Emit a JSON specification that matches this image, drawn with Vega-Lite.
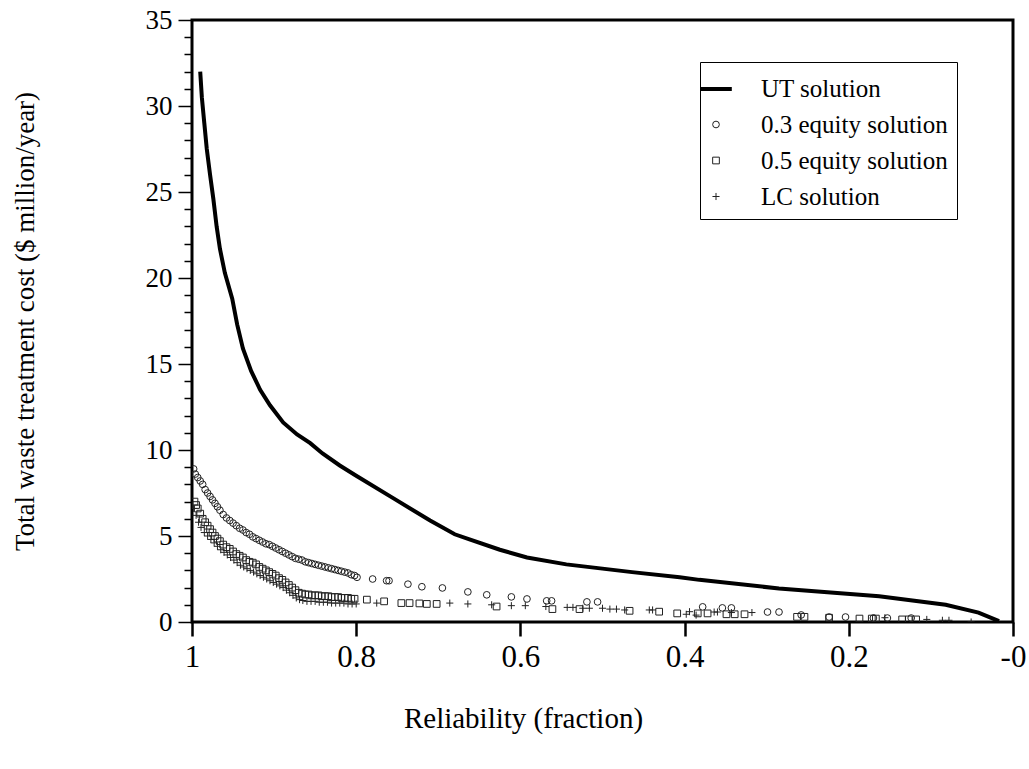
{
  "$schema": "https://vega.github.io/schema/vega-lite/v6.json",
  "autosize": "none",
  "width": 821,
  "height": 602,
  "padding": {"left": 192, "top": 20, "right": 16, "bottom": 147},
  "background": "white",
  "config": {
    "view": {"stroke": "black", "strokeWidth": 3},
    "font": "Liberation Serif",
    "axis": {"labelFont": "Liberation Serif", "titleFont": "Liberation Serif"},
    "legend": {"labelFont": "Liberation Serif", "titleFont": "Liberation Serif"},
    "style": {
      "guide-label": {"font": "Liberation Serif"},
      "guide-title": {"font": "Liberation Serif"}
    }
  },
  "datasets": {
    "ut": [
      {"r": 0.99, "c": 32.0}, {"r": 0.988, "c": 30.5}, {"r": 0.985, "c": 29.0}, {"r": 0.982, "c": 27.5},
      {"r": 0.978, "c": 26.0}, {"r": 0.974, "c": 24.6}, {"r": 0.970, "c": 23.0}, {"r": 0.966, "c": 21.7},
      {"r": 0.960, "c": 20.3}, {"r": 0.951, "c": 18.8}, {"r": 0.945, "c": 17.3}, {"r": 0.938, "c": 15.9},
      {"r": 0.928, "c": 14.6}, {"r": 0.917, "c": 13.5}, {"r": 0.905, "c": 12.6}, {"r": 0.889, "c": 11.6},
      {"r": 0.872, "c": 10.9}, {"r": 0.856, "c": 10.4}, {"r": 0.841, "c": 9.8}, {"r": 0.82, "c": 9.1},
      {"r": 0.8, "c": 8.5}, {"r": 0.755, "c": 7.2}, {"r": 0.71, "c": 5.9}, {"r": 0.68, "c": 5.1},
      {"r": 0.662, "c": 4.8}, {"r": 0.625, "c": 4.2}, {"r": 0.592, "c": 3.75}, {"r": 0.544, "c": 3.35},
      {"r": 0.464, "c": 2.9}, {"r": 0.406, "c": 2.6}, {"r": 0.382, "c": 2.45}, {"r": 0.285, "c": 1.95},
      {"r": 0.163, "c": 1.5}, {"r": 0.082, "c": 1.0}, {"r": 0.042, "c": 0.55}, {"r": 0.017, "c": 0.05}
    ],
    "pts": [
      {"s": "0.3 equity solution", "r": 0.998, "c": 8.9}, {"s": "0.3 equity solution", "r": 0.996, "c": 8.6},
      {"s": "0.3 equity solution", "r": 0.993, "c": 8.4}, {"s": "0.3 equity solution", "r": 0.990, "c": 8.2},
      {"s": "0.3 equity solution", "r": 0.987, "c": 8.0}, {"s": "0.3 equity solution", "r": 0.984, "c": 7.7},
      {"s": "0.3 equity solution", "r": 0.981, "c": 7.5}, {"s": "0.3 equity solution", "r": 0.978, "c": 7.3},
      {"s": "0.3 equity solution", "r": 0.975, "c": 7.1}, {"s": "0.3 equity solution", "r": 0.972, "c": 6.9},
      {"s": "0.3 equity solution", "r": 0.969, "c": 6.7}, {"s": "0.3 equity solution", "r": 0.966, "c": 6.5},
      {"s": "0.3 equity solution", "r": 0.962, "c": 6.25}, {"s": "0.3 equity solution", "r": 0.958, "c": 6.05},
      {"s": "0.3 equity solution", "r": 0.954, "c": 5.9}, {"s": "0.3 equity solution", "r": 0.950, "c": 5.75},
      {"s": "0.3 equity solution", "r": 0.946, "c": 5.6}, {"s": "0.3 equity solution", "r": 0.942, "c": 5.45},
      {"s": "0.3 equity solution", "r": 0.938, "c": 5.35}, {"s": "0.3 equity solution", "r": 0.934, "c": 5.2},
      {"s": "0.3 equity solution", "r": 0.930, "c": 5.1}, {"s": "0.3 equity solution", "r": 0.926, "c": 4.95},
      {"s": "0.3 equity solution", "r": 0.922, "c": 4.85}, {"s": "0.3 equity solution", "r": 0.918, "c": 4.75},
      {"s": "0.3 equity solution", "r": 0.914, "c": 4.65}, {"s": "0.3 equity solution", "r": 0.910, "c": 4.55},
      {"s": "0.3 equity solution", "r": 0.906, "c": 4.5}, {"s": "0.3 equity solution", "r": 0.902, "c": 4.4},
      {"s": "0.3 equity solution", "r": 0.898, "c": 4.3}, {"s": "0.3 equity solution", "r": 0.894, "c": 4.2},
      {"s": "0.3 equity solution", "r": 0.890, "c": 4.1}, {"s": "0.3 equity solution", "r": 0.886, "c": 4.0},
      {"s": "0.3 equity solution", "r": 0.882, "c": 3.9}, {"s": "0.3 equity solution", "r": 0.878, "c": 3.8},
      {"s": "0.3 equity solution", "r": 0.874, "c": 3.7}, {"s": "0.3 equity solution", "r": 0.870, "c": 3.65},
      {"s": "0.3 equity solution", "r": 0.866, "c": 3.6}, {"s": "0.3 equity solution", "r": 0.862, "c": 3.5},
      {"s": "0.3 equity solution", "r": 0.858, "c": 3.45}, {"s": "0.3 equity solution", "r": 0.854, "c": 3.4},
      {"s": "0.3 equity solution", "r": 0.850, "c": 3.35}, {"s": "0.3 equity solution", "r": 0.846, "c": 3.3},
      {"s": "0.3 equity solution", "r": 0.842, "c": 3.25}, {"s": "0.3 equity solution", "r": 0.838, "c": 3.2},
      {"s": "0.3 equity solution", "r": 0.834, "c": 3.15}, {"s": "0.3 equity solution", "r": 0.830, "c": 3.1},
      {"s": "0.3 equity solution", "r": 0.826, "c": 3.05}, {"s": "0.3 equity solution", "r": 0.822, "c": 3.0},
      {"s": "0.3 equity solution", "r": 0.818, "c": 2.95}, {"s": "0.3 equity solution", "r": 0.814, "c": 2.9},
      {"s": "0.3 equity solution", "r": 0.810, "c": 2.85}, {"s": "0.3 equity solution", "r": 0.806, "c": 2.75},
      {"s": "0.3 equity solution", "r": 0.802, "c": 2.7}, {"s": "0.3 equity solution", "r": 0.799, "c": 2.6},
      {"s": "0.3 equity solution", "r": 0.780, "c": 2.5}, {"s": "0.3 equity solution", "r": 0.763, "c": 2.4},
      {"s": "0.3 equity solution", "r": 0.760, "c": 2.4}, {"s": "0.3 equity solution", "r": 0.737, "c": 2.2},
      {"s": "0.3 equity solution", "r": 0.720, "c": 2.05}, {"s": "0.3 equity solution", "r": 0.695, "c": 1.98},
      {"s": "0.3 equity solution", "r": 0.664, "c": 1.75}, {"s": "0.3 equity solution", "r": 0.641, "c": 1.58},
      {"s": "0.3 equity solution", "r": 0.611, "c": 1.46}, {"s": "0.3 equity solution", "r": 0.592, "c": 1.34},
      {"s": "0.3 equity solution", "r": 0.568, "c": 1.23}, {"s": "0.3 equity solution", "r": 0.562, "c": 1.23},
      {"s": "0.3 equity solution", "r": 0.519, "c": 1.17}, {"s": "0.3 equity solution", "r": 0.506, "c": 1.17},
      {"s": "0.3 equity solution", "r": 0.378, "c": 0.88}, {"s": "0.3 equity solution", "r": 0.354, "c": 0.82},
      {"s": "0.3 equity solution", "r": 0.343, "c": 0.82}, {"s": "0.3 equity solution", "r": 0.299, "c": 0.58},
      {"s": "0.3 equity solution", "r": 0.285, "c": 0.58}, {"s": "0.3 equity solution", "r": 0.258, "c": 0.41},
      {"s": "0.3 equity solution", "r": 0.224, "c": 0.29}, {"s": "0.3 equity solution", "r": 0.204, "c": 0.29},
      {"s": "0.3 equity solution", "r": 0.170, "c": 0.23}, {"s": "0.3 equity solution", "r": 0.153, "c": 0.23},
      {"s": "0.3 equity solution", "r": 0.124, "c": 0.23},

      {"s": "0.5 equity solution", "r": 0.997, "c": 7.0}, {"s": "0.5 equity solution", "r": 0.995, "c": 6.8},
      {"s": "0.5 equity solution", "r": 0.993, "c": 6.6}, {"s": "0.5 equity solution", "r": 0.990, "c": 6.3},
      {"s": "0.5 equity solution", "r": 0.987, "c": 6.0}, {"s": "0.5 equity solution", "r": 0.984, "c": 5.8},
      {"s": "0.5 equity solution", "r": 0.981, "c": 5.6}, {"s": "0.5 equity solution", "r": 0.978, "c": 5.4},
      {"s": "0.5 equity solution", "r": 0.975, "c": 5.2}, {"s": "0.5 equity solution", "r": 0.972, "c": 5.0},
      {"s": "0.5 equity solution", "r": 0.969, "c": 4.85}, {"s": "0.5 equity solution", "r": 0.966, "c": 4.7},
      {"s": "0.5 equity solution", "r": 0.962, "c": 4.5}, {"s": "0.5 equity solution", "r": 0.958, "c": 4.35},
      {"s": "0.5 equity solution", "r": 0.954, "c": 4.25}, {"s": "0.5 equity solution", "r": 0.950, "c": 4.1},
      {"s": "0.5 equity solution", "r": 0.946, "c": 3.95}, {"s": "0.5 equity solution", "r": 0.942, "c": 3.85},
      {"s": "0.5 equity solution", "r": 0.938, "c": 3.75}, {"s": "0.5 equity solution", "r": 0.934, "c": 3.6},
      {"s": "0.5 equity solution", "r": 0.930, "c": 3.5}, {"s": "0.5 equity solution", "r": 0.926, "c": 3.45},
      {"s": "0.5 equity solution", "r": 0.922, "c": 3.35}, {"s": "0.5 equity solution", "r": 0.918, "c": 3.2},
      {"s": "0.5 equity solution", "r": 0.914, "c": 3.1}, {"s": "0.5 equity solution", "r": 0.910, "c": 3.0},
      {"s": "0.5 equity solution", "r": 0.906, "c": 2.9}, {"s": "0.5 equity solution", "r": 0.902, "c": 2.8},
      {"s": "0.5 equity solution", "r": 0.898, "c": 2.7}, {"s": "0.5 equity solution", "r": 0.894, "c": 2.55},
      {"s": "0.5 equity solution", "r": 0.890, "c": 2.45}, {"s": "0.5 equity solution", "r": 0.886, "c": 2.3},
      {"s": "0.5 equity solution", "r": 0.882, "c": 2.15}, {"s": "0.5 equity solution", "r": 0.878, "c": 2.0},
      {"s": "0.5 equity solution", "r": 0.874, "c": 1.85}, {"s": "0.5 equity solution", "r": 0.870, "c": 1.7},
      {"s": "0.5 equity solution", "r": 0.866, "c": 1.65}, {"s": "0.5 equity solution", "r": 0.862, "c": 1.6},
      {"s": "0.5 equity solution", "r": 0.858, "c": 1.6}, {"s": "0.5 equity solution", "r": 0.854, "c": 1.55},
      {"s": "0.5 equity solution", "r": 0.850, "c": 1.55}, {"s": "0.5 equity solution", "r": 0.846, "c": 1.55},
      {"s": "0.5 equity solution", "r": 0.842, "c": 1.5}, {"s": "0.5 equity solution", "r": 0.838, "c": 1.5},
      {"s": "0.5 equity solution", "r": 0.834, "c": 1.5}, {"s": "0.5 equity solution", "r": 0.830, "c": 1.45},
      {"s": "0.5 equity solution", "r": 0.826, "c": 1.45}, {"s": "0.5 equity solution", "r": 0.822, "c": 1.45},
      {"s": "0.5 equity solution", "r": 0.818, "c": 1.4}, {"s": "0.5 equity solution", "r": 0.814, "c": 1.4},
      {"s": "0.5 equity solution", "r": 0.810, "c": 1.4}, {"s": "0.5 equity solution", "r": 0.806, "c": 1.35},
      {"s": "0.5 equity solution", "r": 0.802, "c": 1.35}, {"s": "0.5 equity solution", "r": 0.787, "c": 1.3},
      {"s": "0.5 equity solution", "r": 0.766, "c": 1.2}, {"s": "0.5 equity solution", "r": 0.745, "c": 1.1},
      {"s": "0.5 equity solution", "r": 0.735, "c": 1.1}, {"s": "0.5 equity solution", "r": 0.723, "c": 1.08},
      {"s": "0.5 equity solution", "r": 0.714, "c": 1.05}, {"s": "0.5 equity solution", "r": 0.702, "c": 1.05},
      {"s": "0.5 equity solution", "r": 0.629, "c": 0.9}, {"s": "0.5 equity solution", "r": 0.561, "c": 0.75},
      {"s": "0.5 equity solution", "r": 0.528, "c": 0.75}, {"s": "0.5 equity solution", "r": 0.467, "c": 0.65},
      {"s": "0.5 equity solution", "r": 0.431, "c": 0.6}, {"s": "0.5 equity solution", "r": 0.409, "c": 0.5},
      {"s": "0.5 equity solution", "r": 0.384, "c": 0.5}, {"s": "0.5 equity solution", "r": 0.372, "c": 0.5},
      {"s": "0.5 equity solution", "r": 0.349, "c": 0.45}, {"s": "0.5 equity solution", "r": 0.339, "c": 0.45},
      {"s": "0.5 equity solution", "r": 0.327, "c": 0.45}, {"s": "0.5 equity solution", "r": 0.263, "c": 0.3},
      {"s": "0.5 equity solution", "r": 0.254, "c": 0.3}, {"s": "0.5 equity solution", "r": 0.224, "c": 0.25},
      {"s": "0.5 equity solution", "r": 0.187, "c": 0.2}, {"s": "0.5 equity solution", "r": 0.172, "c": 0.2},
      {"s": "0.5 equity solution", "r": 0.167, "c": 0.2}, {"s": "0.5 equity solution", "r": 0.135, "c": 0.15},
      {"s": "0.5 equity solution", "r": 0.127, "c": 0.15}, {"s": "0.5 equity solution", "r": 0.118, "c": 0.15},

      {"s": "LC solution", "r": 0.998, "c": 6.6}, {"s": "LC solution", "r": 0.995, "c": 6.2},
      {"s": "LC solution", "r": 0.992, "c": 5.8}, {"s": "LC solution", "r": 0.989, "c": 5.5},
      {"s": "LC solution", "r": 0.985, "c": 5.2}, {"s": "LC solution", "r": 0.981, "c": 5.0},
      {"s": "LC solution", "r": 0.977, "c": 4.8}, {"s": "LC solution", "r": 0.973, "c": 4.6},
      {"s": "LC solution", "r": 0.969, "c": 4.4}, {"s": "LC solution", "r": 0.965, "c": 4.2},
      {"s": "LC solution", "r": 0.961, "c": 4.05}, {"s": "LC solution", "r": 0.957, "c": 3.9},
      {"s": "LC solution", "r": 0.953, "c": 3.75}, {"s": "LC solution", "r": 0.949, "c": 3.6},
      {"s": "LC solution", "r": 0.945, "c": 3.45}, {"s": "LC solution", "r": 0.941, "c": 3.3},
      {"s": "LC solution", "r": 0.937, "c": 3.2}, {"s": "LC solution", "r": 0.933, "c": 3.1},
      {"s": "LC solution", "r": 0.929, "c": 3.0}, {"s": "LC solution", "r": 0.925, "c": 2.9},
      {"s": "LC solution", "r": 0.921, "c": 2.8}, {"s": "LC solution", "r": 0.917, "c": 2.7},
      {"s": "LC solution", "r": 0.913, "c": 2.6}, {"s": "LC solution", "r": 0.909, "c": 2.5},
      {"s": "LC solution", "r": 0.905, "c": 2.4}, {"s": "LC solution", "r": 0.901, "c": 2.3},
      {"s": "LC solution", "r": 0.897, "c": 2.2}, {"s": "LC solution", "r": 0.893, "c": 2.1},
      {"s": "LC solution", "r": 0.889, "c": 2.0}, {"s": "LC solution", "r": 0.885, "c": 1.85},
      {"s": "LC solution", "r": 0.881, "c": 1.7}, {"s": "LC solution", "r": 0.877, "c": 1.55},
      {"s": "LC solution", "r": 0.873, "c": 1.4}, {"s": "LC solution", "r": 0.869, "c": 1.3},
      {"s": "LC solution", "r": 0.865, "c": 1.25}, {"s": "LC solution", "r": 0.860, "c": 1.2},
      {"s": "LC solution", "r": 0.855, "c": 1.2}, {"s": "LC solution", "r": 0.850, "c": 1.2},
      {"s": "LC solution", "r": 0.845, "c": 1.15}, {"s": "LC solution", "r": 0.840, "c": 1.15},
      {"s": "LC solution", "r": 0.835, "c": 1.15}, {"s": "LC solution", "r": 0.830, "c": 1.1},
      {"s": "LC solution", "r": 0.825, "c": 1.1}, {"s": "LC solution", "r": 0.820, "c": 1.1},
      {"s": "LC solution", "r": 0.815, "c": 1.1}, {"s": "LC solution", "r": 0.810, "c": 1.05},
      {"s": "LC solution", "r": 0.805, "c": 1.05}, {"s": "LC solution", "r": 0.800, "c": 1.05},
      {"s": "LC solution", "r": 0.775, "c": 1.1}, {"s": "LC solution", "r": 0.686, "c": 1.1},
      {"s": "LC solution", "r": 0.664, "c": 1.05}, {"s": "LC solution", "r": 0.635, "c": 1.0},
      {"s": "LC solution", "r": 0.611, "c": 0.95}, {"s": "LC solution", "r": 0.594, "c": 0.95},
      {"s": "LC solution", "r": 0.569, "c": 0.9}, {"s": "LC solution", "r": 0.543, "c": 0.85},
      {"s": "LC solution", "r": 0.536, "c": 0.85}, {"s": "LC solution", "r": 0.524, "c": 0.8},
      {"s": "LC solution", "r": 0.516, "c": 0.8}, {"s": "LC solution", "r": 0.500, "c": 0.8},
      {"s": "LC solution", "r": 0.491, "c": 0.75}, {"s": "LC solution", "r": 0.483, "c": 0.75},
      {"s": "LC solution", "r": 0.473, "c": 0.7}, {"s": "LC solution", "r": 0.443, "c": 0.7},
      {"s": "LC solution", "r": 0.439, "c": 0.7}, {"s": "LC solution", "r": 0.398, "c": 0.45},
      {"s": "LC solution", "r": 0.394, "c": 0.6}, {"s": "LC solution", "r": 0.386, "c": 0.4},
      {"s": "LC solution", "r": 0.364, "c": 0.58}, {"s": "LC solution", "r": 0.360, "c": 0.58},
      {"s": "LC solution", "r": 0.343, "c": 0.55}, {"s": "LC solution", "r": 0.318, "c": 0.55},
      {"s": "LC solution", "r": 0.156, "c": 0.25}, {"s": "LC solution", "r": 0.105, "c": 0.15},
      {"s": "LC solution", "r": 0.086, "c": 0.1}, {"s": "LC solution", "r": 0.078, "c": 0.1},
      {"s": "LC solution", "r": 0.051, "c": 0.0}
    ]
  },
  "encoding": {
    "x": {
      "field": "r", "type": "quantitative",
      "scale": {"domain": [0, 1], "reverse": true, "nice": false, "zero": false},
      "axis": {
        "values": [1, 0.8, 0.6, 0.4, 0.2, 0],
        "labelExpr": "datum.value == 0 ? '-0' : format(datum.value, '~g')",
        "domain": false, "grid": false,
        "tickSize": 14, "tickWidth": 2.5, "tickColor": "black",
        "labelFont": "Liberation Serif", "labelFontSize": 31, "labelColor": "black",
        "labelPadding": 6, "labelFlush": false, "labelOverlap": false,
        "title": "Reliability (fraction)",
        "titleFont": "Liberation Serif", "titleFontSize": 29, "titleFontWeight": "normal", "titleColor": "black",
        "titleX": 331, "titleY": 96, "titleBaseline": "middle", "titleAlign": "center"
      }
    },
    "y": {
      "field": "c", "type": "quantitative",
      "scale": {"domain": [0, 35], "nice": false},
      "axis": {
        "values": [0,1,2,3,4,5,6,7,8,9,10,11,12,13,14,15,16,17,18,19,20,21,22,23,24,25,26,27,28,29,30,31,32,33,34,35],
        "labelExpr": "datum.value % 5 === 0 ? datum.label : ''",
        "domain": false, "grid": false,
        "tickSize": {"condition": {"test": "datum.value % 5 === 0", "value": 14}, "value": 8},
        "tickWidth": 1.5, "tickColor": "black",
        "labelFont": "Liberation Serif", "labelFontSize": 27, "labelColor": "black",
        "labelPadding": 6, "labelFlush": false, "labelOverlap": false,
        "title": "Total waste treatment cost ($ million/year)",
        "titleFont": "Liberation Serif", "titleFontSize": 27, "titleFontWeight": "normal", "titleColor": "black",
        "titleX": -167, "titleY": 301, "titleAngle": -90, "titleBaseline": "middle", "titleAlign": "center"
      }
    }
  },
  "layer": [
    {
      "data": {"name": "ut"},
      "mark": {"type": "line", "color": "black", "strokeWidth": 4, "clip": true}
    },
    {
      "data": {"name": "pts"},
      "mark": {"type": "point", "filled": false, "opacity": 1, "clip": true},
      "encoding": {
        "shape": {
          "field": "s", "type": "nominal",
          "scale": {
            "domain": ["UT solution", "0.3 equity solution", "0.5 equity solution", "LC solution"],
            "range": ["stroke", "circle", "square", "M-1,0H1M0,-1V1"]
          },
          "legend": {
            "title": null,
            "orient": "none", "legendX": 508, "legendY": 42,
            "strokeColor": "black", "fillColor": "white",
            "padding": 9, "rowPadding": 10,
            "symbolOffset": -11,
            "labelFont": "Liberation Serif", "labelFontSize": 25, "labelColor": "black",
            "labelOffset": 27, "labelLimit": 400
          }
        },
        "size": {
          "field": "s", "type": "nominal",
          "scale": {
            "type": "ordinal",
            "domain": ["UT solution", "0.3 equity solution", "0.5 equity solution", "LC solution"],
            "range": [1000, 45, 45, 50]
          },
          "legend": {"title": null}
        },
        "strokeWidth": {
          "field": "s", "type": "nominal",
          "scale": {
            "type": "ordinal",
            "domain": ["UT solution", "0.3 equity solution", "0.5 equity solution", "LC solution"],
            "range": [4, 1, 1, 1]
          },
          "legend": {"title": null}
        },
        "color": {
          "field": "s", "type": "nominal",
          "scale": {
            "domain": ["UT solution", "0.3 equity solution", "0.5 equity solution", "LC solution"],
            "range": ["black", "#222", "#222", "#222"]
          },
          "legend": {"title": null}
        }
      }
    }
  ]
}
